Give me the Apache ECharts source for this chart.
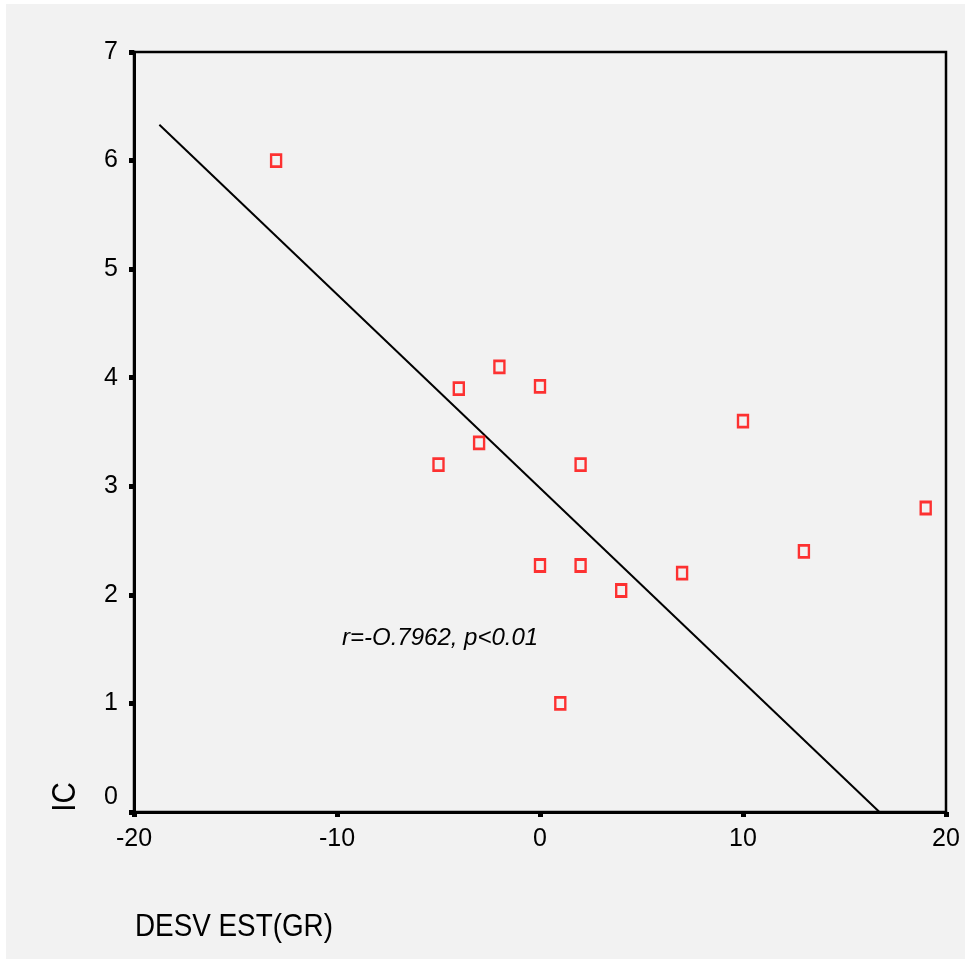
<!DOCTYPE html>
<html>
<head>
<meta charset="utf-8">
<script src="https://cdn.jsdelivr.net/npm/echarts@6/dist/echarts.min.js"></script>
<style>
html,body{margin:0;padding:0;background:#ffffff;width:965px;height:959px;overflow:hidden;}
#chart{position:absolute;left:6px;top:4px;width:959px;height:955px;}
</style>
</head>
<body>
<div id="chart"></div>
<script>
// Data
const xValues = [-13, -4, -2, 0, -5, -3, 2, 0, 2, 4, 7, 1, 10, 13, 19];
const yValues = [6.0, 3.9, 4.1, 3.92, 3.2, 3.4, 3.2, 2.27, 2.27, 2.04, 2.2, 1.0, 3.6, 2.4, 2.8];
const fitLineX = [-18.75, 16.72];
const fitLineY = [6.33, 0];
const xTicks = [-20, -10, 0, 10, 20];
const yTicks = [0, 1, 2, 3, 4, 5, 6, 7];
const xAxisTitle = 'DESV EST(GR)';
const yAxisTitle = 'IC';
const annotation = 'r=-O.7962, p<0.01';

const points = xValues.map((x, i) => [x, yValues[i]]);
const fitLine = fitLineX.map((x, i) => [x, fitLineY[i]]);

const sans = 'Liberation Sans';
const chart = echarts.init(document.getElementById('chart'), null, {renderer: 'canvas'});
chart.setOption({
  backgroundColor: '#f2f2f2',
  animation: false,
  grid: {left: 128, top: 48, width: 812, height: 760, show: true, borderColor: '#000', borderWidth: 2.5, backgroundColor: 'transparent'},
  xAxis: {
    type: 'value', min: xTicks[0], max: xTicks[xTicks.length - 1], interval: 10,
    axisLine: {show: true, onZero: false, lineStyle: {color: '#000', width: 3}},
    axisTick: {show: true, length: 5, lineStyle: {color: '#000', width: 5}},
    axisLabel: {color: '#000', fontFamily: sans, fontSize: 25, margin: 15},
    splitLine: {show: false}
  },
  yAxis: {
    type: 'value', min: yTicks[0], max: yTicks[yTicks.length - 1], interval: 1,
    axisLine: {show: true, onZero: false, lineStyle: {color: '#000', width: 3}},
    axisTick: {show: true, length: 5, lineStyle: {color: '#000', width: 5}},
    axisLabel: {
      color: '#000', fontFamily: sans, fontSize: 25, margin: 16,
      formatter: v => v === 0 ? '{z|0}' : String(v),
      rich: {z: {fontFamily: sans, fontSize: 25, color: '#000', padding: [0, 0, 30, 0]}}
    },
    splitLine: {show: false}
  },
  series: [
    {
      type: 'line', data: fitLine, symbol: 'none',
      lineStyle: {color: '#000', width: 2}, z: 2
    },
    {
      type: 'scatter', data: points, symbol: 'rect', symbolSize: [10, 12],
      itemStyle: {color: 'transparent', borderColor: '#ff0000', borderWidth: 2.6}, z: 3
    }
  ],
  graphic: [
    {type: 'text', x: 129, y: 907, scaleX: 0.87, style: {text: xAxisTitle, font: '32px "Liberation Sans"', fill: '#000'}},
    {type: 'text', x: 60, y: 793, rotation: Math.PI / 2, scaleX: 0.87, style: {text: yAxisTitle, font: '34px "Liberation Sans"', fill: '#000', align: 'center', verticalAlign: 'middle'}},
    {type: 'text', x: 336, y: 622, style: {text: annotation, font: 'italic 24px "Liberation Sans"', fill: '#000'}}
  ]
});
</script>
</body>
</html>
